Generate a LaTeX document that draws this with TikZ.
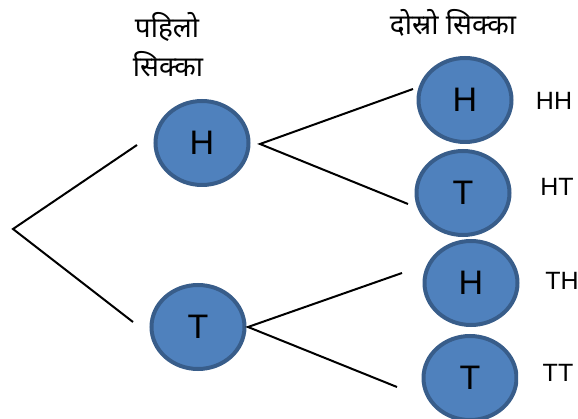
\documentclass[tikz,border=0pt]{standalone}
\usepackage{fontspec}
\setmainfont{Liberation Sans}
\newfontfamily\devfont[Script=Devanagari]{Noto Sans}
\usetikzlibrary{shapes.geometric}
\definecolor{coinfill}{HTML}{4F81BD}
\definecolor{coinline}{HTML}{385D8A}
\tikzset{
  coin/.style={ellipse, draw=coinline, fill=coinfill, line width=4pt,
    minimum width=93pt, minimum height=84pt, inner sep=0pt,
    font=\fontsize{34}{34}\selectfont},
  outcome/.style={font=\fontsize{25}{25}\selectfont, inner sep=0pt},
  heading/.style={font=\devfont\fontsize{28}{36}\selectfont, inner sep=0pt, align=center},
  branch/.style={line width=2pt, black}
}
\begin{document}
\begin{tikzpicture}[x=1pt,y=-1pt]
\useasboundingbox (0,0) rectangle (578,419);
% headings
\node[heading] (h1a) at (167,27) {पहिलो};
\node[heading] (h1b) at (168,64) {सिक्का};
\node[heading] (h2) at (453,23) {दोस्रो सिक्का};
% coins
\node[coin] (cH) at (202,143) {H};
\node[coin] (cT) at (198,327) {T};
\node[coin] (cHH) at (465,100) {H};
\node[coin] (cHT) at (463,193) {T};
\node[coin] (cTH) at (471,283) {H};
\begin{scope}
\clip (0,0) rectangle (518,419);
\node[coin] (cTT) at (470,378) {T};
\end{scope}
% outcomes
\node[outcome] (oHH) at (554,101) {HH};
\node[outcome] (oHT) at (557,187) {HT};
\node[outcome] (oTH) at (562,281) {TH};
\node[outcome] (oTT) at (558,373) {TT};
% branch points
\coordinate (root) at (13,229);
\coordinate (rH) at (137,145);
\coordinate (rT) at (133,322);
\coordinate (sH) at (260,144);
\coordinate (sHH) at (413,89);
\coordinate (sHT) at (408,204);
\coordinate (sT) at (248,327);
\coordinate (sTH) at (402,273);
\coordinate (sTT) at (397,387);
\draw[branch] (rH) -- (root) -- (rT);
\draw[branch] (sHH) -- (sH) -- (sHT);
\draw[branch] (sTH) -- (sT) -- (sTT);
\end{tikzpicture}
\end{document}
